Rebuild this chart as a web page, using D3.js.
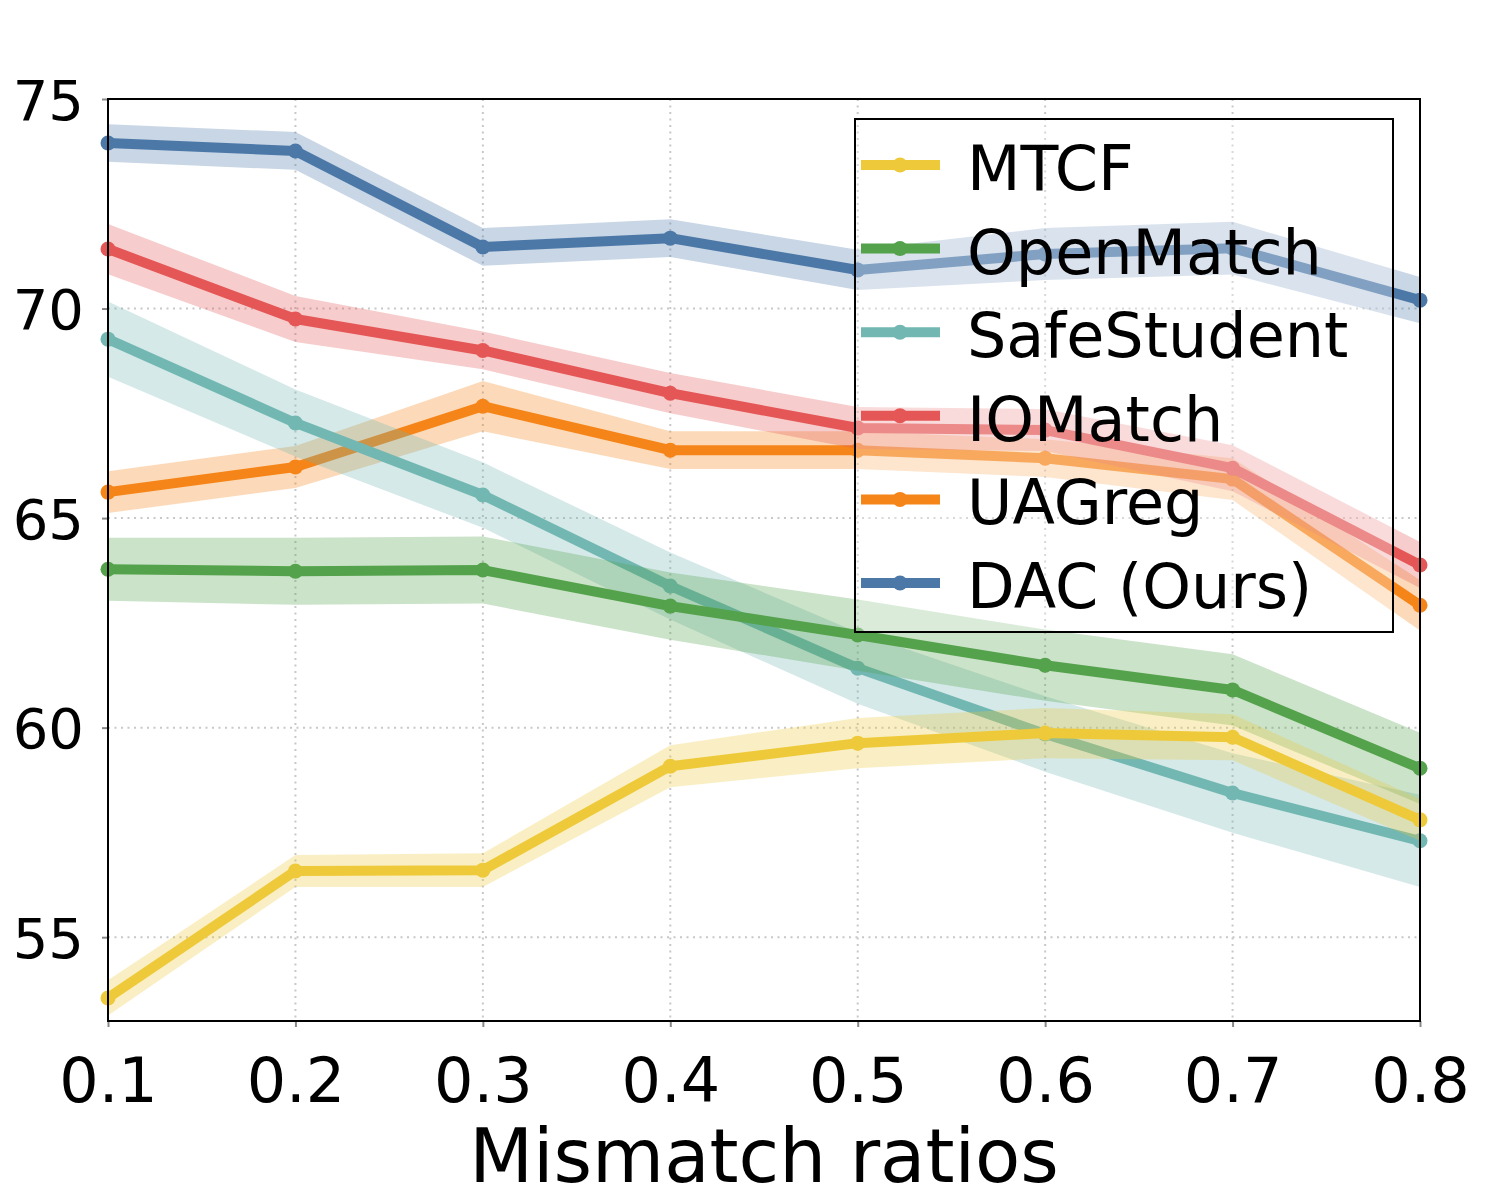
<!DOCTYPE html>
<html>
<head>
<meta charset="utf-8">
<script src="https://cdn.jsdelivr.net/npm/d3@7"></script>
<style>
    body { margin: 0; background: #fff; }
    text { font-family: "DejaVu Sans", sans-serif; }
</style>
</head>
<body>
<div id="chart"></div>
<script>
// data
const ratios = [0.1, 0.2, 0.3, 0.4, 0.5, 0.6, 0.7, 0.8]
const yTicks = [55, 60, 65, 70, 75]

const mtcf = [53.55, 56.58, 56.6, 59.08, 59.63, 59.87, 59.77, 57.8]
const mtcfStd = [0.42, 0.38, 0.4, 0.5, 0.6, 0.6, 0.55, 0.5]
const openMatch = [63.78, 63.73, 63.76, 62.9, 62.21, 61.49, 60.9, 59.03]
const openMatchStd = [0.75, 0.8, 0.8, 0.8, 0.85, 0.85, 0.85, 0.85]
const safeStudent = [69.27, 67.27, 65.55, 63.38, 61.42, 59.85, 58.44, 57.3]
const safeStudentStd = [0.9, 0.8, 0.78, 0.8, 0.85, 0.9, 0.95, 1.1]
const ioMatch = [71.42, 69.75, 69.0, 67.98, 67.15, 67.1, 66.19, 63.88]
const ioMatchStd = [0.6, 0.55, 0.45, 0.48, 0.5, 0.5, 0.55, 0.55]
const uaGreg = [65.62, 66.22, 67.67, 66.62, 66.62, 66.43, 65.93, 62.92]
const uaGregStd = [0.5, 0.5, 0.6, 0.45, 0.45, 0.45, 0.5, 0.6]
const dac = [73.95, 73.76, 71.47, 71.68, 70.92, 71.3, 71.44, 70.2]
const dacStd = [0.45, 0.45, 0.45, 0.45, 0.48, 0.62, 0.63, 0.55]

const seriesNames = ["MTCF", "OpenMatch", "SafeStudent", "IOMatch", "UAGreg", "DAC (Ours)"]
const seriesColors = ["#eeca3b", "#54a24b", "#72b7b2", "#e45756", "#f58518", "#4c78a8"]

buildChart()

function buildChart() {
    let series = [
        [mtcf, mtcfStd], [openMatch, openMatchStd], [safeStudent, safeStudentStd],
        [ioMatch, ioMatchStd], [uaGreg, uaGregStd], [dac, dacStd]
    ].map(([vals, std], i) => ({
        name: seriesNames[i],
        color: seriesColors[i],
        points: vals.map((v, j) => ({x: ratios[j], y: v, lo: v - std[j], hi: v + std[j]}))
    }))

    let svg = d3.select("#chart").append("svg")
                .attr("width", 1500)
                .attr("height", 1200)

    let m = {left: 108, right: 1420, top: 99, bottom: 1021}
    let x = d3.scaleLinear().domain([0.1, 0.8]).range([m.left, m.right])
    let y = d3.scaleLinear().domain([53, 75]).range([m.bottom, m.top])

    // grid
    svg.append("g").selectAll("line")
        .data(ratios).enter().append("line")
            .attr("x1", d => x(d)).attr("x2", d => x(d))
            .attr("y1", m.top).attr("y2", m.bottom)
            .attr("stroke", "#c8c8c8").attr("stroke-width", 2)
            .attr("stroke-dasharray", "2,4.5")
    svg.append("g").selectAll("line")
        .data(yTicks).enter().append("line")
            .attr("x1", m.left).attr("x2", m.right)
            .attr("y1", d => y(d)).attr("y2", d => y(d))
            .attr("stroke", "#c8c8c8").attr("stroke-width", 2)
            .attr("stroke-dasharray", "2,4.5")

    let plot = svg.append("g")
    let area = d3.area().x(d => x(d.x)).y0(d => y(d.lo)).y1(d => y(d.hi))
    let line = d3.line().x(d => x(d.x)).y(d => y(d.y))

    // drawn last-to-first so MTCF ends on top
    series.slice().reverse().forEach(s => {
        plot.append("path")
            .attr("d", area(s.points))
            .attr("fill", s.color)
            .attr("fill-opacity", 0.3)
        plot.append("path")
            .attr("d", line(s.points))
            .attr("fill", "none")
            .attr("stroke", s.color)
            .attr("stroke-width", 10)
            .attr("stroke-linejoin", "round")
        plot.selectAll(null)
            .data(s.points).enter().append("circle")
                .attr("cx", d => x(d.x))
                .attr("cy", d => y(d.y))
                .attr("r", 7.5)
                .attr("fill", s.color)
    })

    // axes
    let xAxis = svg.append("g")
                    .attr("transform", `translate(0,${m.bottom})`)
                    .call(d3.axisBottom(x).tickValues(ratios).tickFormat(d3.format(".1f")).tickSizeOuter(0).tickSize(6).tickPadding(31))
    let yAxis = svg.append("g")
                    .attr("transform", `translate(${m.left},0)`)
                    .call(d3.axisLeft(y).tickValues(yTicks).tickSizeOuter(0).tickSize(6).tickPadding(18))
    ;[xAxis, yAxis].forEach(a => {
        a.select(".domain").remove()
        a.selectAll(".tick line").attr("stroke", "#888").attr("stroke-width", 2)
        a.selectAll(".tick text").attr("font-size", 56).attr("fill", "#000")
                .style("font-family", "DejaVu Sans, sans-serif")
    })
    xAxis.selectAll(".tick text").attr("font-size", 62).attr("dy", "0.71em")
    yAxis.selectAll(".tick text").attr("dy", "0.36em")

    // legend
    let lg = svg.append("g")
    lg.append("rect")
        .attr("x", 855).attr("y", 119)
        .attr("width", 538).attr("height", 513)
        .attr("fill", "#fff").attr("fill-opacity", 0.3)
        .attr("stroke", "#000").attr("stroke-width", 2)
    series.forEach((s, i) => {
        let cy = 165 + i * 83.6
        lg.append("line")
            .attr("x1", 861).attr("x2", 940)
            .attr("y1", cy).attr("y2", cy)
            .attr("stroke", s.color).attr("stroke-width", 10)
        lg.append("circle")
            .attr("cx", 900).attr("cy", cy).attr("r", 7.5)
            .attr("fill", s.color)
        lg.append("text")
            .attr("x", 967).attr("y", cy + 25)
            .attr("font-size", 62)
            .text(s.name)
    })

    // frame
    svg.append("rect")
        .attr("x", m.left).attr("y", m.top)
        .attr("width", m.right - m.left).attr("height", m.bottom - m.top)
        .attr("fill", "none").attr("stroke", "#000").attr("stroke-width", 2)

    svg.append("text")
        .attr("x", (m.left + m.right) / 2).attr("y", 1182)
        .attr("text-anchor", "middle")
        .attr("font-size", 74)
        .text("Mismatch ratios")
}
</script>
</body>
</html>
